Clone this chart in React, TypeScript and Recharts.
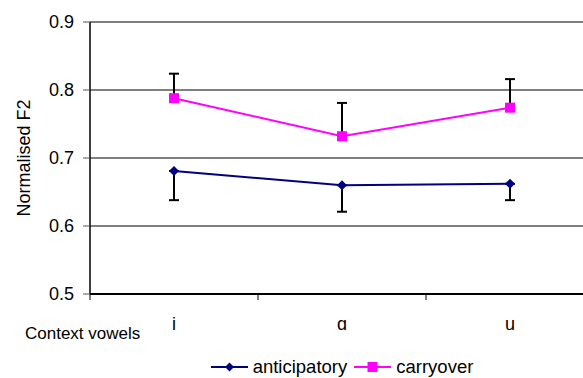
import { CartesianGrid, ErrorBar, Legend, Line, LineChart, XAxis, YAxis } from 'recharts';

const vowels = ['i', 'ɑ', 'u'];
const anticipatory = [0.681, 0.66, 0.662];
const anticipatoryLow = [0.638, 0.621, 0.638];
const carryover = [0.788, 0.732, 0.774];
const carryoverHigh = [0.824, 0.781, 0.816];
const yTicks = [0.5, 0.6, 0.7, 0.8, 0.9];

const FONT = '"Liberation Sans", Arial, sans-serif';
const NAVY = '#000080';
const MAGENTA = '#FF00FF';

const data = vowels.map((v, i) => ({
  pos: i + 0.5,
  vowel: v,
  anticipatory: anticipatory[i],
  antErr: [anticipatory[i] - anticipatoryLow[i], 0],
  carryover: carryover[i],
  carErr: [0, carryoverHigh[i] - carryover[i]],
}));

// tick marks sit on the category boundaries (Excel style), labels in the middle
const boundaries = vowels.map((_, i) => i).concat(vowels.length);
const centres = vowels.map((_, i) => i + 0.5);
const xTicks = [...boundaries, ...centres].sort((a, b) => a - b);

function VowelTick({ x, y, payload }: { x?: number; y?: number; payload?: { value: number } }) {
  const v = payload?.value ?? 0;
  if (Number.isInteger(v)) {
    return <line x1={x} x2={x} y1={y} y2={(y ?? 0) + 6} stroke="#000" strokeWidth={1} />;
  }
  return (
    <text x={x} y={(y ?? 0) + 30} dy="0.355em" textAnchor="middle" fontSize={18} fontFamily={FONT} fill="#000">
      {vowels[Math.floor(v)]}
    </text>
  );
}

function Diamond({ cx, cy }: { cx?: number; cy?: number }) {
  if (cx == null || cy == null) return null;
  const r = 5;
  return <polygon points={`${cx},${cy - r} ${cx + r},${cy} ${cx},${cy + r} ${cx - r},${cy}`} fill={NAVY} />;
}

function Square({ cx, cy }: { cx?: number; cy?: number }) {
  if (cx == null || cy == null) return null;
  return <rect x={cx - 5} y={cy - 5} width={10} height={10} fill={MAGENTA} />;
}

function LegendBox() {
  const item = (label: string, color: string, marker: 'diamond' | 'square') => (
    <div style={{ display: 'flex', alignItems: 'center' }}>
      <svg width={37} height={12} style={{ marginRight: 5 }}>
        <line x1={0} x2={37} y1={6} y2={6} stroke={color} strokeWidth={2} />
        {marker === 'diamond' ? (
          <polygon points="18.5,1.5 23,6 18.5,10.5 14,6" fill={color} />
        ) : (
          <rect x={13.5} y={1} width={10} height={10} fill={color} />
        )}
      </svg>
      <span>{label}</span>
    </div>
  );
  return (
    <div
      style={{
        display: 'flex',
        justifyContent: 'center',
        gap: 7,
        height: 22,
        alignItems: 'center',
        fontFamily: FONT,
        fontSize: 18.5,
        color: '#000',
      }}
    >
      {item('anticipatory', NAVY, 'diamond')}
      {item('carryover', MAGENTA, 'square')}
    </div>
  );
}

export default function App() {
  return (
    <div
      style={{
        position: 'absolute',
        left: 0,
        top: 0,
        width: 583,
        height: 378,
        overflow: 'hidden',
        background: '#fff',
        fontFamily: FONT,
      }}
    >
      <LineChart width={594} height={378} data={data} margin={{ top: 22, right: 0, left: 0, bottom: 0 }}>
        <CartesianGrid vertical={false} stroke="#000" strokeWidth={1} />
        <XAxis
          dataKey="pos"
          type="number"
          domain={[0, vowels.length]}
          ticks={xTicks}
          interval={0}
          tick={<VowelTick />}
          tickLine={false}
          tickSize={0}
          tickMargin={0}
          height={62}
          axisLine={{ stroke: '#000', strokeWidth: 2 }}
        />
        <YAxis
          domain={[0.5, 0.9]}
          ticks={yTicks}
          tickFormatter={(v: number) => v.toFixed(1)}
          tick={{ fill: '#000', fontSize: 18, fontFamily: FONT }}
          tickSize={7}
          tickMargin={9}
          tickLine={{ stroke: '#555' }}
          axisLine={{ stroke: '#000', strokeWidth: 1.5 }}
          width={90}
          label={{
            value: 'Normalised F2',
            angle: -90,
            position: 'insideLeft',
            offset: 24,
            style: { textAnchor: 'middle', fontSize: 18, fontFamily: FONT, fill: '#000' },
          }}
        />
        <Legend
          verticalAlign="bottom"
          content={<LegendBox />}
          wrapperStyle={{ left: 90, width: 504, bottom: 0 }}
        />
        <Line
          dataKey="anticipatory"
          name="anticipatory"
          stroke={NAVY}
          strokeWidth={2}
          dot={<Diamond />}
          activeDot={false}
          isAnimationActive={false}
        >
          <ErrorBar dataKey="antErr" width={5} stroke="#000" strokeWidth={2} direction="y" />
        </Line>
        <Line
          dataKey="carryover"
          name="carryover"
          stroke={MAGENTA}
          strokeWidth={2}
          dot={<Square />}
          activeDot={false}
          isAnimationActive={false}
        >
          <ErrorBar dataKey="carErr" width={5} stroke="#000" strokeWidth={2} direction="y" />
        </Line>
      </LineChart>
      <div style={{ position: 'absolute', left: 25, top: 324, fontSize: 17, lineHeight: '19px', color: '#000' }}>
        Context vowels
      </div>
    </div>
  );
}
